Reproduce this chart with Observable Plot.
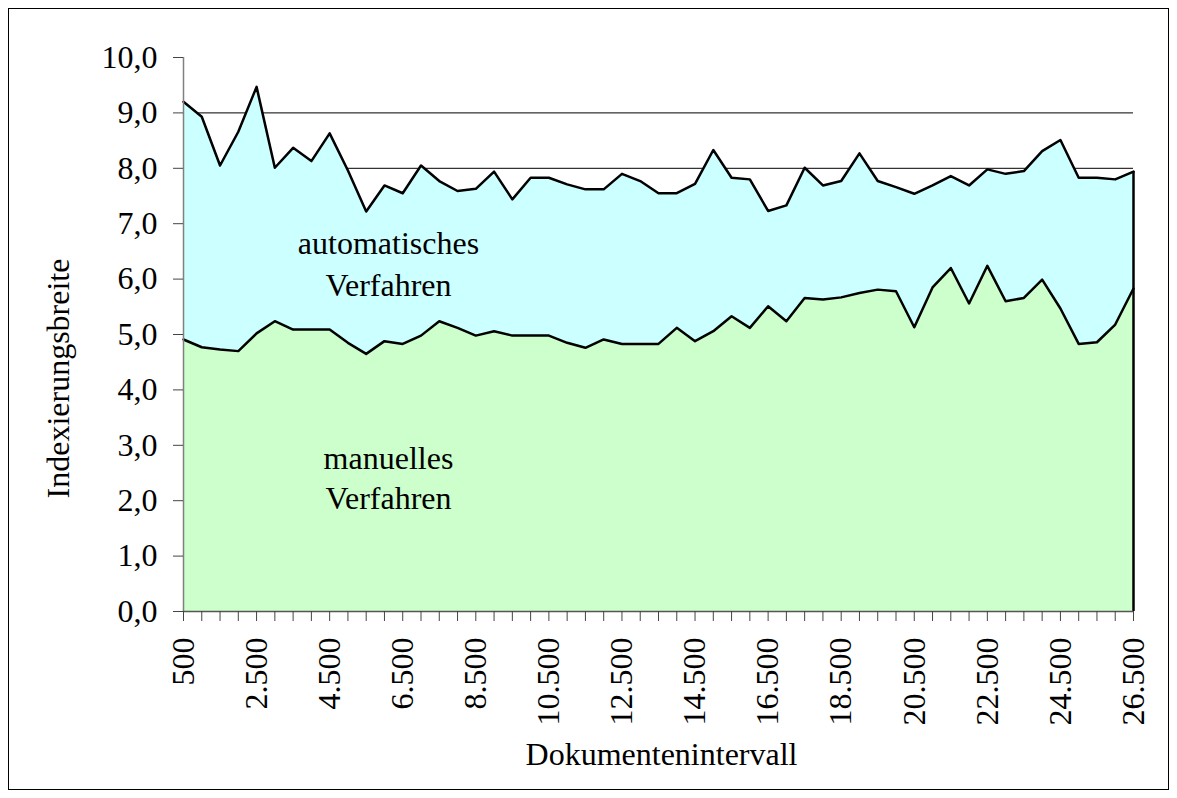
<!DOCTYPE html>
<html>
<head>
<meta charset="utf-8">
<script src="https://cdn.jsdelivr.net/npm/d3@7"></script>
<script src="https://cdn.jsdelivr.net/npm/@observablehq/plot@0.6"></script>
<style>
  html, body { margin: 0; padding: 0; background: white; }
  #chart svg { display: block; }
</style>
</head>
<body>
<div id="chart"></div>
<script>
// Dokumentenintervall (x categories)
const intervals = [500, 1000, 1500, 2000, 2500, 3000, 3500, 4000, 4500, 5000,
  5500, 6000, 6500, 7000, 7500, 8000, 8500, 9000, 9500, 10000,
  10500, 11000, 11500, 12000, 12500, 13000, 13500, 14000, 14500, 15000,
  15500, 16000, 16500, 17000, 17500, 18000, 18500, 19000, 19500, 20000,
  20500, 21000, 21500, 22000, 22500, 23000, 23500, 24000, 24500, 25000,
  25500, 26000, 26500];

// Indexierungsbreite, automatisches Verfahren (upper line)
const automatisch = [9.20, 8.93, 8.05, 8.66, 9.47, 8.01, 8.37, 8.13, 8.63, 7.96,
  7.22, 7.69, 7.55, 8.05, 7.77, 7.59, 7.63, 7.94, 7.44, 7.83,
  7.83, 7.71, 7.62, 7.62, 7.90, 7.77, 7.55, 7.55, 7.72, 8.33,
  7.83, 7.80, 7.23, 7.33, 8.01, 7.69, 7.77, 8.27, 7.77, 7.66,
  7.54, 7.69, 7.86, 7.69, 7.98, 7.90, 7.95, 8.31, 8.51, 7.83,
  7.83, 7.80, 7.94];

// Indexierungsbreite, manuelles Verfahren (lower line)
const manuell = [4.91, 4.77, 4.73, 4.70, 5.02, 5.24, 5.09, 5.09, 5.09, 4.85,
  4.65, 4.88, 4.83, 4.98, 5.24, 5.12, 4.98, 5.06, 4.98, 4.98,
  4.98, 4.85, 4.76, 4.91, 4.83, 4.83, 4.83, 5.12, 4.88, 5.06,
  5.33, 5.12, 5.51, 5.24, 5.66, 5.63, 5.67, 5.75, 5.81, 5.78,
  5.13, 5.85, 6.20, 5.56, 6.24, 5.60, 5.66, 5.99, 5.47, 4.83,
  4.86, 5.18, 5.83];

// Tick values
const yTicks = [0, 1, 2, 3, 4, 5, 6, 7, 8, 9, 10];
const gridLines = [1, 2, 3, 4, 5, 6, 7, 8, 9];
const xLabelTicks = [500, 2500, 4500, 6500, 8500, 10500, 12500, 14500, 16500, 18500, 20500, 22500, 24500, 26500];

// Texts
const xTitle = "Dokumentenintervall";
const yTitle = "Indexierungsbreite";
const areaLabelTexts = ["automatisches", "Verfahren", "manuelles", "Verfahren"];
const areaLabelX = [6110, 6110, 6110, 6110];
const areaLabelY = [6.64, 5.88, 2.76, 2.04];

// Build tables
const rows = intervals.map((x, i) => ({x, auto: automatisch[i], manual: manuell[i]}));
const lastRow = [rows[rows.length - 1]];
const areaLabels = areaLabelTexts.map((t, i) => ({text: t, x: areaLabelX[i], y: areaLabelY[i]}));

const de = d3.formatLocale({decimal: ",", thousands: ".", grouping: [3], currency: ["", " €"]});
const fmtY = de.format(".1f");
const fmtX = de.format(",");
const labelSet = new Set(xLabelTicks);

const FONT = "'Liberation Serif', 'Times New Roman', serif";

const chart = Plot.plot({
  width: 1177,
  height: 798,
  marginLeft: 183,
  marginRight: 44,
  marginTop: 57,
  marginBottom: 187,
  x: {domain: [500, 26500]},
  y: {domain: [0, 10]},
  style: {fontFamily: FONT, fontSize: "32px", color: "black", background: "white", overflow: "visible"},
  marks: [
    Plot.ruleY(gridLines, {stroke: "black", strokeWidth: 1}),
    Plot.areaY(rows, {x: "x", y: "auto", fill: "#CCFFFF"}),
    Plot.areaY(rows, {x: "x", y: "manual", fill: "#CCFFCC"}),
    Plot.lineY(rows, {x: "x", y: "auto", stroke: "black", strokeWidth: 2.5}),
    Plot.lineY(rows, {x: "x", y: "manual", stroke: "black", strokeWidth: 2.5}),
    Plot.ruleX(lastRow, {x: "x", y1: 0, y2: "auto", stroke: "black", strokeWidth: 2.5}),
    Plot.ruleX([500], {y1: 0, y2: 10, stroke: "#808080", strokeWidth: 1.5}),
    Plot.ruleY([0], {stroke: "#555", strokeWidth: 1.5}),
    Plot.axisY({ticks: yTicks, tickSize: 10, tickPadding: 16, tickFormat: fmtY, label: null, stroke: "#444", fill: "black", fontSize: 32}),
    Plot.axisX({ticks: intervals, tickSize: 10, tickPadding: 16, tickRotate: -90,
      tickFormat: d => labelSet.has(d) ? fmtX(d) : "", label: null, stroke: "#444", fill: "black", fontSize: 32}),
    Plot.text(areaLabels, {x: "x", y: "y", text: "text", fontSize: 32, fill: "black", textAnchor: "middle"}),
    Plot.text([xTitle], {frameAnchor: "bottom", lineAnchor: "bottom", dy: 153, dx: 3, fontSize: 32, fill: "black"}),
    Plot.text([yTitle], {frameAnchor: "left", lineAnchor: "bottom", rotate: -90, dx: -115, dy: 44, fontSize: 32, fill: "black", textAnchor: "middle"})
  ]
});

// outer chart border
d3.select(chart).append("rect")
  .attr("x", 8.5).attr("y", 8.5)
  .attr("width", 1160).attr("height", 781)
  .attr("fill", "none").attr("stroke", "black").attr("stroke-width", 1);

document.getElementById("chart").appendChild(chart);
</script>
</body>
</html>
